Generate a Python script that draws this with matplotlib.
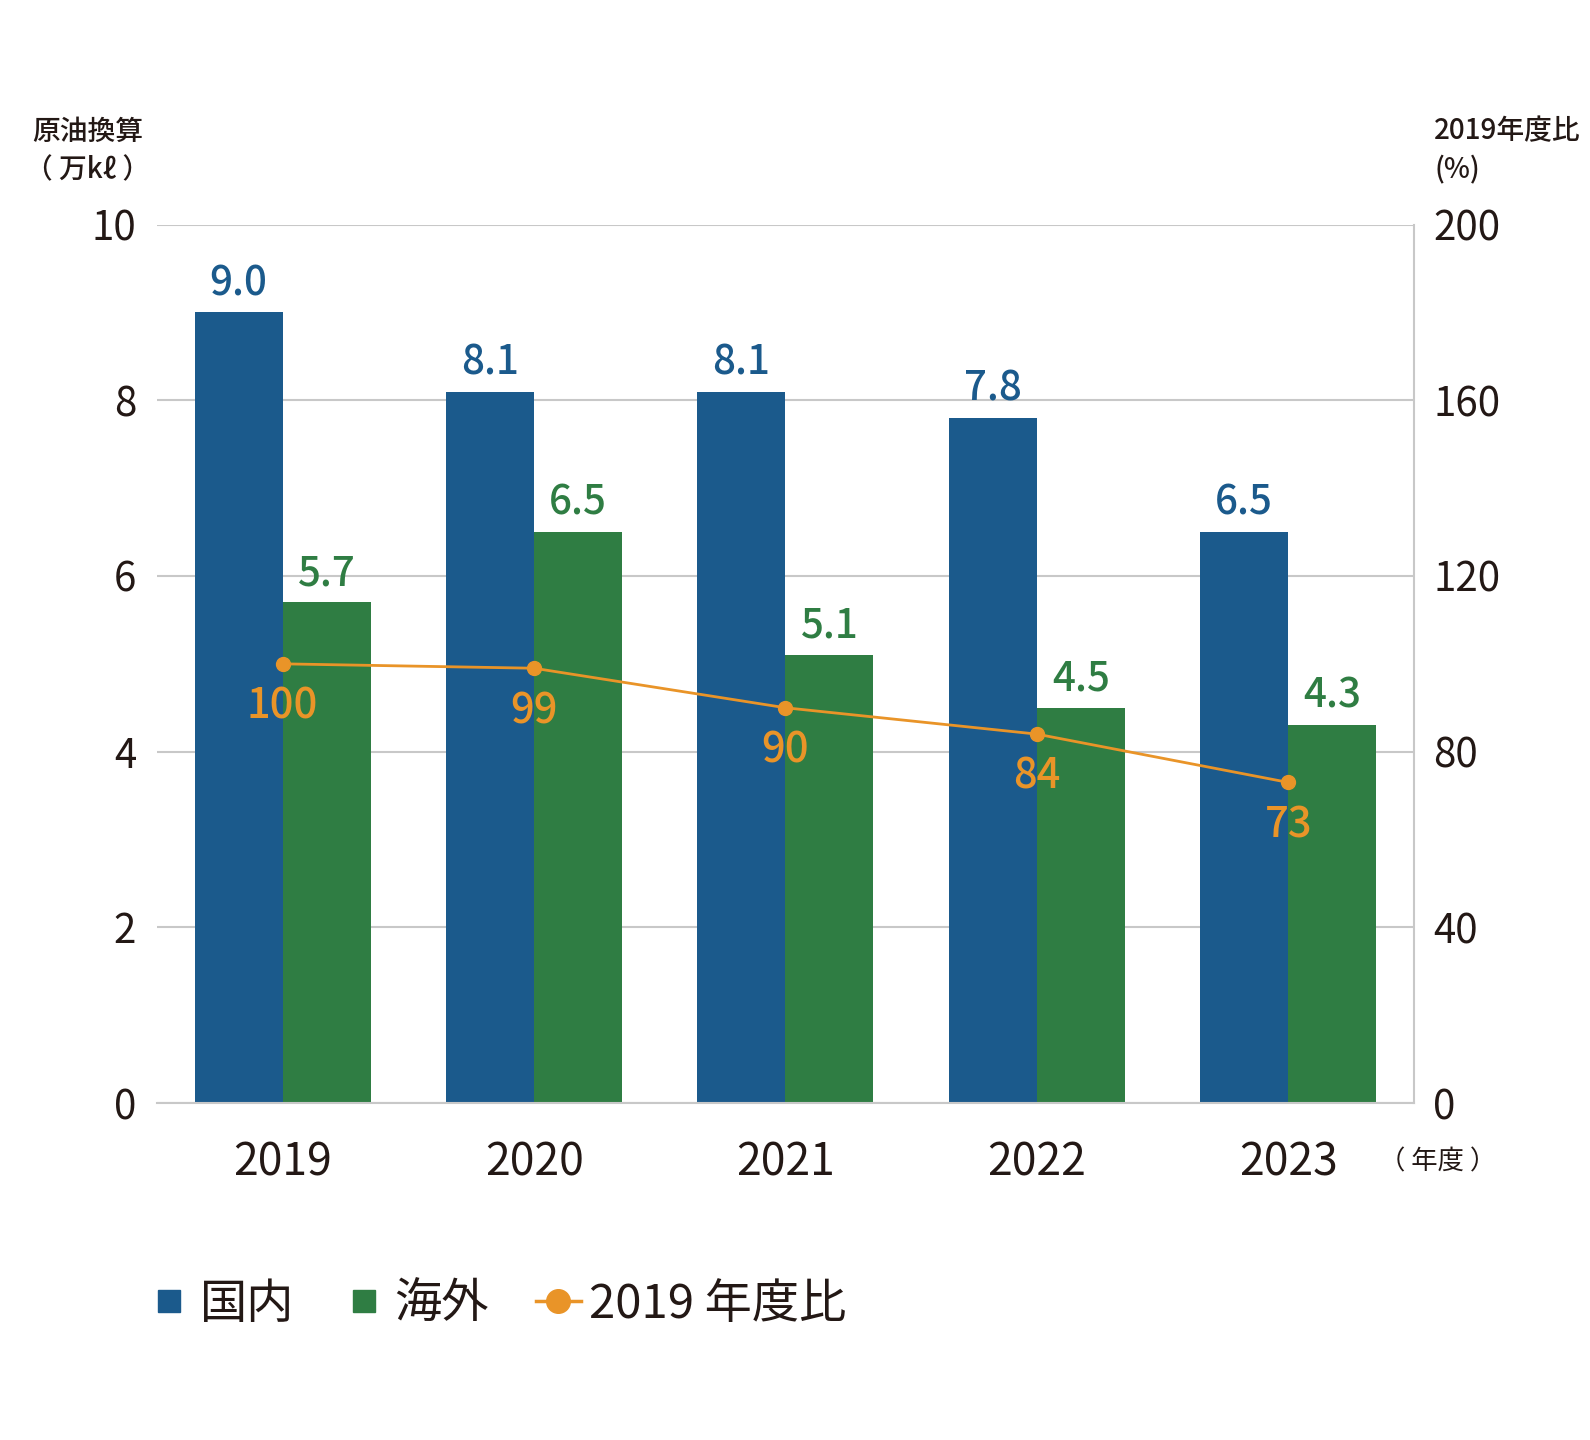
import numpy as np
import matplotlib.pyplot as plt
from matplotlib.lines import Line2D

plt.rcParams['font.family'] = ['Noto Sans CJK JP', 'DejaVu Sans']

years = ["2019", "2020", "2021", "2022", "2023"]
domestic = [9.0, 8.1, 8.1, 7.8, 6.5]
overseas = [5.7, 6.5, 5.1, 4.5, 4.3]
ratio = [100, 99, 90, 84, 73]

blue = "#1b5a8c"
green = "#2f7d43"
orange = "#e99428"
grid_c = "#c8c8c8"
text_c = "#231815"

fig = plt.figure(figsize=(15.9, 14.4), dpi=100)
ax = fig.add_axes([0.0987, 0.234, 0.7906, 0.610])
x = np.arange(len(years))
w = 0.35

ax.bar(x - w / 2, domestic, w, color=blue, zorder=2)
ax.bar(x + w / 2, overseas, w, color=green, zorder=2)
for xi, v in zip(x, domestic):
    ax.annotate(f"{v:.1f}", (xi - w / 2, v), xytext=(0, 6), textcoords="offset points",
                ha="center", va="bottom", fontsize=29, fontweight="medium", color=blue)
for xi, v in zip(x, overseas):
    ax.annotate(f"{v:.1f}", (xi + w / 2, v), xytext=(0, 6), textcoords="offset points",
                ha="center", va="bottom", fontsize=29, fontweight="medium", color=green)

ax.set_xlim(-0.5, 4.5)
ax.set_ylim(0, 10)
ax.set_yticks(range(0, 11, 2))
ax.set_xticks(x)
ax.set_xticklabels(years, fontsize=32, color=text_c)
ax.tick_params(axis="y", labelsize=29, length=0, pad=15, labelcolor=text_c)
ax.tick_params(axis="x", length=0, pad=26)
ax.grid(axis="y", color=grid_c, linewidth=1.5, zorder=0)
for s in ["top", "left", "right"]:
    ax.spines[s].set_visible(False)
ax.spines["bottom"].set_color(grid_c)
ax.spines["bottom"].set_linewidth(1.5)

ax2 = ax.twinx()
ax2.set_ylim(0, 200)
ax2.set_yticks(range(0, 201, 40))
ax2.tick_params(axis="y", labelsize=29, length=0, pad=14, labelcolor=text_c)
for s in ["top", "left", "bottom"]:
    ax2.spines[s].set_visible(False)
ax2.spines["right"].set_color(grid_c)
ax2.spines["right"].set_linewidth(1.5)
ax2.plot(x, ratio, color=orange, linewidth=2, marker="o", markersize=10, zorder=3)
for xi, v in zip(x, ratio):
    ax2.annotate(f"{v}", (xi, v), xytext=(0, -15), textcoords="offset points",
                 ha="center", va="top", fontsize=30, fontweight="medium", color=orange)

fig.text(0.055, 0.909, "原油換算", fontsize=20, fontweight="medium",
         ha="center", va="center", color=text_c)
fig.text(0.055, 0.882, "（ 万kℓ ）", fontsize=20, fontweight="medium",
         ha="center", va="center", color=text_c)
fig.text(0.902, 0.909, "2019年度比", fontsize=20, fontweight="medium",
         ha="left", va="center", color=text_c)
fig.text(0.902, 0.882, "(%)", fontsize=20, fontweight="medium",
         ha="left", va="center", color=text_c)
fig.text(0.904, 0.193, "（ 年度 ）", fontsize=19, ha="center", va="center", color=text_c)

handles = [Line2D([], [], color=blue, marker="s", linestyle="none", markersize=16),
           Line2D([], [], color=green, marker="s", linestyle="none", markersize=16),
           Line2D([], [], color=orange, linewidth=2.5, marker="o", markersize=17)]
fig.legend(handles, ["国内", "海外", "2019 年度比"], loc="center left",
           bbox_to_anchor=(0.0775, 0.094), ncol=3, frameon=False, fontsize=34,
           borderpad=0, handlelength=0.95, handletextpad=0.17, columnspacing=1.0,
           labelcolor=text_c)

fig.savefig("out.png", dpi=100)
